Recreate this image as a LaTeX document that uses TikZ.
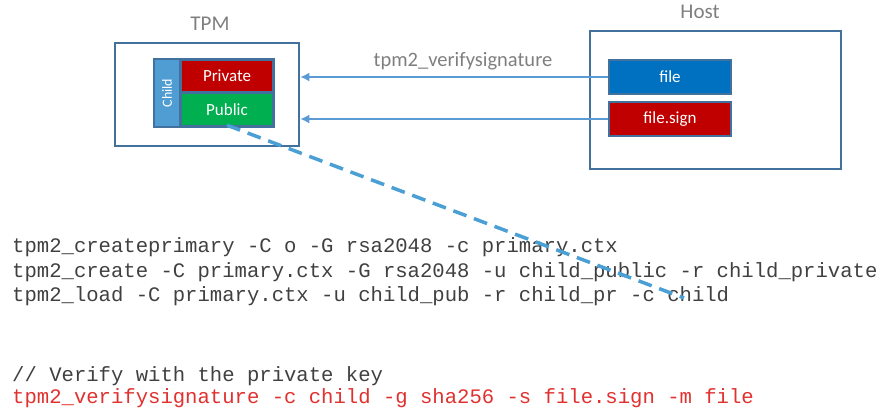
\documentclass[tikz,border=0pt]{standalone}
\usepackage{fontspec}
\setmainfont{Carlito}
\newfontfamily\codefont{Liberation Mono}
\usetikzlibrary{arrows.meta}
\definecolor{frame}{HTML}{41719C}
\definecolor{strip}{HTML}{4F9DD2}
\definecolor{pred}{HTML}{C00000}
\definecolor{pgreen}{HTML}{00B050}
\definecolor{fblue}{HTML}{0070C0}
\definecolor{arr}{HTML}{5B9BD5}
\definecolor{dash}{HTML}{4A9FD5}
\definecolor{lbl}{HTML}{7F7F7F}
\definecolor{code}{HTML}{404040}
\definecolor{codered}{HTML}{E0312F}
\tikzset{
  container/.style={draw=frame, line width=2.5pt, fill=white, inner sep=0pt},
  keybox/.style={inner sep=0pt, text=white, font=\fontsize{17}{17}\selectfont},
  filebox/.style={draw=frame, line width=2pt, inner sep=0pt, text=white, font=\fontsize{17}{17}\selectfont},
  title/.style={text=lbl, font=\fontsize{21}{21}\selectfont},
  flow/.style={draw=arr, line width=2.5pt, -{Latex[length=9pt,width=9pt]}},
  codeline/.style={anchor=base west, inner sep=0pt, text=code, font=\codefont\fontsize{20.6}{20.6}\selectfont},
}
\begin{document}
\begin{tikzpicture}[x=1pt,y=-1pt]
\useasboundingbox (0,0) rectangle (890,410);
% TPM
\node[container, minimum width=184pt, minimum height=103pt] (tpm) at (207,94.5) {};
\node[title] (tpmlbl) at (210,24) {TPM};
\node[draw=frame, fill=frame, line width=2pt, minimum width=120pt, minimum height=68pt, inner sep=0pt] (child) at (214,93) {};
\node[fill=strip, minimum width=24pt, minimum height=66pt, inner sep=0pt] (strip) at (167,93) {};
\node[rotate=90, text=white, font=\fontsize{14}{14}\selectfont] (childlbl) at (167,93) {Child};
\node[keybox, fill=pred, minimum width=90pt, minimum height=30pt] (priv) at (227,76) {Private};
\node[keybox, fill=pgreen, minimum width=90pt, minimum height=31pt] (pub) at (227,109.5) {Public};
% Host
\node[container, minimum width=251pt, minimum height=138pt] (host) at (715.5,100) {};
\node[title] (hostlbl) at (700,12) {Host};
\node[filebox, fill=fblue, minimum width=122pt, minimum height=34pt] (file) at (670,77) {file};
\node[filebox, fill=pred, minimum width=122pt, minimum height=34pt] (fsign) at (670,119) {file.sign};
% arrows
\draw[flow] (file.west) -- (file.west -| tpm.east) coordinate (a1);
\draw[flow] (fsign.west) -- (fsign.west -| tpm.east) coordinate (a2);
\node[text=lbl, font=\fontsize{20.5}{20.5}\selectfont] (vlbl) at (463,61) {tpm2\_verifysignature};
% code
\node[codeline] (l1) at (12,252) {tpm2\_createprimary -C o -G rsa2048 -c primary.ctx};
\node[codeline] (l2) at (12,277) {tpm2\_create -C primary.ctx -G rsa2048 -u child\_public -r child\_private};
\node[codeline] (l3) at (12,301) {tpm2\_load -C primary.ctx -u child\_pub -r child\_pr -c child};
\node[codeline] (l4) at (12,381) {// Verify with the private key};
\node[codeline, text=codered] (l5) at (12,403) {tpm2\_verifysignature -c child -g sha256 -s file.sign -m file};
% dashed
\coordinate (dend) at (684,298);
\draw[draw=dash, line width=3.5pt, dash pattern=on 14pt off 8pt] (pub.south) -- (dend);
\end{tikzpicture}
\end{document}
